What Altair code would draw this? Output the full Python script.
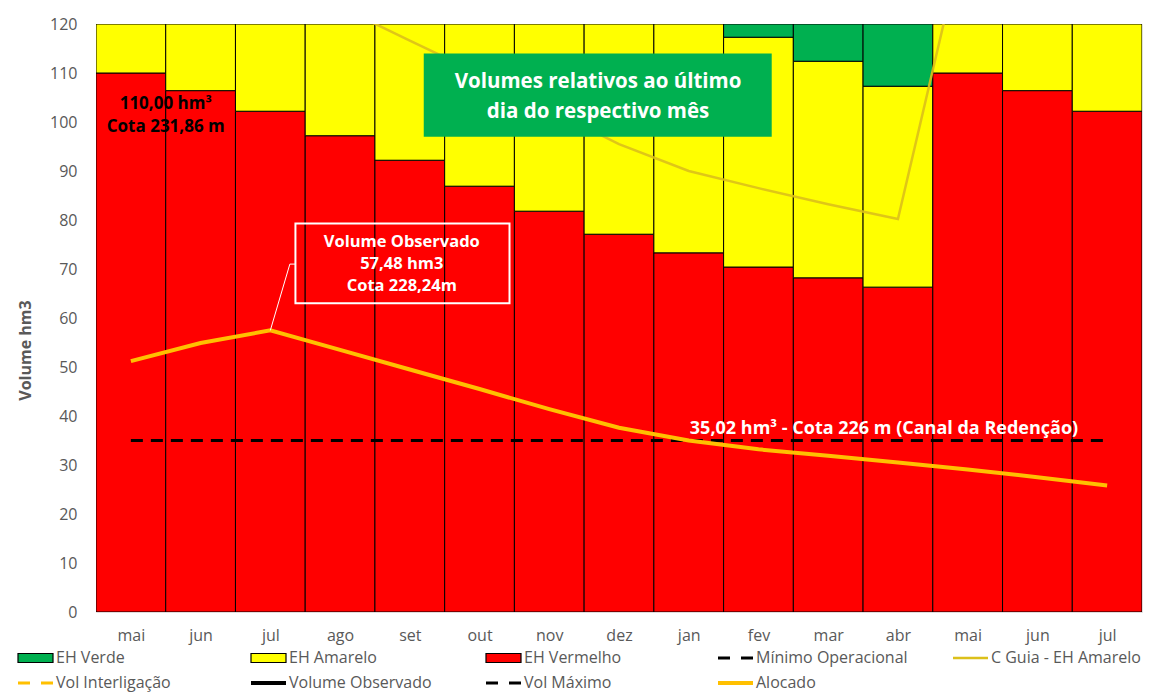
import altair as alt
import pandas as pd

FONT = "Open Sans"
GREY = "#595959"

# ---------------- data ----------------
meses = ["mai", "jun", "jul", "ago", "set", "out", "nov", "dez",
         "jan", "fev", "mar", "abr", "mai", "jun", "jul"]
eh_vermelho = [110.0, 106.4, 102.2, 97.2, 92.2, 86.9, 81.8, 77.1,
               73.3, 70.4, 68.2, 66.3, 110.0, 106.4, 102.2]
eh_amarelo_topo = [120, 120, 120, 120, 120, 120, 120, 120,
                   120, 117.3, 112.4, 107.3, 120, 120, 120]
eh_verde_topo = 120
alocado = [51.2, 54.9, 57.48, 53.5, 49.5, 45.5, 41.4, 37.6,
           35.0, 33.2, 31.9, 30.5, 29.1, 27.5, 25.8]
c_guia_idx = [3, 4, 5, 6, 7, 8, 9, 10, 11, 12]
c_guia = [123.5, 116.6, 109.8, 102.6, 95.5, 90.0, 86.5, 83.2, 80.2, 141.0]
minimo_operacional = 35.02
vol_observado_idx = 2
vol_observado = 57.48

serie_nomes = ["EH Verde", "EH Amarelo", "EH Vermelho"]
serie_cores = ["#00B050", "#FFFF00", "#FF0000"]

n = len(meses)

# ---------------- tables ----------------
rows = []
for i in range(n):
    segs = [("EH Vermelho", 0, eh_vermelho[i]),
            ("EH Amarelo", eh_vermelho[i], eh_amarelo_topo[i])]
    if eh_amarelo_topo[i] < eh_verde_topo:
        segs.append(("EH Verde", eh_amarelo_topo[i], eh_verde_topo))
    for s, a, b in segs:
        rows.append({"serie": s, "x0": i - 0.5, "x1": i + 0.5, "y0": a, "y1": b})
df_bars = pd.DataFrame(rows)

df_aloc = pd.DataFrame({"i": list(range(n)), "v": alocado})
df_guia = pd.DataFrame({"i": c_guia_idx, "v": c_guia})
df_min = pd.DataFrame({"x0": [0], "x1": [n - 1], "y": [minimo_operacional]})

xscale = alt.Scale(domain=[-0.5, n - 0.5], nice=False, zero=False)
yscale = alt.Scale(domain=[0, 120], nice=False, zero=True)

label_expr = "[" + ",".join(f"'{m}'" for m in meses) + "][datum.value]"

xaxis = alt.Axis(values=list(range(n)), labelExpr=label_expr, grid=False, ticks=False,
                 domain=False, labelPadding=15, labelFontSize=16, labelColor=GREY,
                 labelFont=FONT, labelFlush=False, labelOverlap=False, title=None)
yaxis = alt.Axis(values=list(range(0, 121, 10)), grid=False, ticks=False, domain=False,
                 labelPadding=19, labelFontSize=16, labelColor=GREY, labelFont=FONT,
                 title="Volume hm3", titleFont=FONT, titleFontSize=16, titleFontWeight="bold",
                 titleColor=GREY, titleX=-63, titleY=326, titleAngle=270, titleBaseline="bottom")


def X(field):
    return alt.X(field, scale=xscale, axis=xaxis)


def Y(field):
    return alt.Y(field, scale=yscale, axis=yaxis)


bars = alt.Chart(df_bars).mark_bar(stroke="black", strokeWidth=1, clip=True).encode(
    x=X("x0:Q"), x2="x1:Q",
    y=Y("y0:Q"), y2="y1:Q",
    color=alt.Color("serie:N", scale=alt.Scale(domain=serie_nomes, range=serie_cores), legend=None),
)

guia = alt.Chart(df_guia).mark_line(color="#DCC01A", strokeWidth=2.5, clip=True, opacity=0.9).encode(
    x=X("i:Q"), y=Y("v:Q"),
)

minimo = alt.Chart(df_min).mark_rule(color="black", strokeWidth=3, strokeDash=[12, 8]).encode(
    x=X("x0:Q"), x2="x1:Q", y=Y("y:Q"),
)

aloc = alt.Chart(df_aloc).mark_line(color="#FFC000", strokeWidth=4).encode(
    x=X("i:Q"), y=Y("v:Q"),
)

# ---------------- annotations ----------------
df_box_verde = pd.DataFrame({"x0": [4.2], "x1": [9.19], "y0": [97.0], "y1": [114.0]})
box_verde = alt.Chart(df_box_verde).mark_rect(color="#00B050").encode(
    x=X("x0:Q"), x2="x1:Q", y=Y("y0:Q"), y2="y1:Q",
)

df_box_obs = pd.DataFrame({"x0": [2.36], "x1": [5.43], "y0": [63.0], "y1": [79.3]})
box_obs = alt.Chart(df_box_obs).mark_rect(fillOpacity=0, stroke="white", strokeWidth=2).encode(
    x=X("x0:Q"), x2="x1:Q", y=Y("y0:Q"), y2="y1:Q",
)

df_leader = pd.DataFrame({"x": [vol_observado_idx, 2.28, 2.36],
                          "y": [vol_observado, 71.0, 71.0], "o": [0, 1, 2]})
leader = alt.Chart(df_leader).mark_line(color="white", strokeWidth=1).encode(
    x=X("x:Q"), y=Y("y:Q"), order="o:Q",
)

df_txt = pd.DataFrame([
    {"t": "110,00 hm³", "x": 0.50, "y": 103.6, "c": "black", "s": 17},
    {"t": "Cota 231,86 m", "x": 0.50, "y": 99.0, "c": "black", "s": 17},
    {"t": "Volumes relativos ao último", "x": 6.70, "y": 108.2, "c": "white", "s": 20.5},
    {"t": "dia do respectivo mês", "x": 6.70, "y": 102.1, "c": "white", "s": 20.5},
    {"t": "Volume Observado", "x": 3.885, "y": 75.5, "c": "white", "s": 16.5},
    {"t": "57,48 hm3", "x": 3.885, "y": 71.0, "c": "white", "s": 16.5},
    {"t": "Cota 228,24m", "x": 3.885, "y": 66.5, "c": "white", "s": 16.5},
    {"t": "35,02 hm³ - Cota 226 m (Canal da Redenção)", "x": 10.80, "y": 37.3, "c": "white", "s": 18},
])
txt = alt.Chart(df_txt).mark_text(font=FONT, fontWeight="bold", align="center", baseline="middle").encode(
    x=X("x:Q"), y=Y("y:Q"),
    text="t:N",
    color=alt.Color("c:N", scale=None),
    size=alt.Size("s:Q", scale=None),
)

# ---------------- custom legend (pixel layout) ----------------
leg_col_x = [-78, 155, 390, 622, 857]
leg_row_y = [634, 659]
leg_items = [
    ("EH Verde", 0, 0, "sq", "#00B050", 0),
    ("EH Amarelo", 1, 0, "sq", "#FFFF00", 0),
    ("EH Vermelho", 2, 0, "sq", "#FF0000", 0),
    ("Mínimo Operacional", 3, 0, "dash", "black", 3),
    ("C Guia - EH Amarelo", 4, 0, "line", "#DCC01A", 2.5),
    ("Vol Interligação", 0, 1, "dash", "#FFC000", 3),
    ("Volume Observado", 1, 1, "line", "black", 4),
    ("Vol Máximo", 2, 1, "dash", "black", 3),
    ("Alocado", 3, 1, "line", "#FFC000", 4),
]
leg = pd.DataFrame(leg_items, columns=["nome", "col", "row", "tipo", "cor", "sw"])
leg["px"] = [leg_col_x[c] for c in leg["col"]]
leg["px2"] = leg["px"] + 35
leg["tx"] = leg["px"] + 38
leg["py"] = [leg_row_y[r] for r in leg["row"]]
leg["py0"] = leg["py"] - 4.5
leg["py1"] = leg["py"] + 4.5

leg_sq = alt.Chart(leg[leg["tipo"] == "sq"]).mark_rect(stroke="black", strokeWidth=1.2).encode(
    x=alt.X("px:Q", scale=None, axis=None), x2="px2:Q",
    y=alt.Y("py0:Q", scale=None, axis=None), y2="py1:Q",
    fill=alt.Fill("cor:N", scale=None),
)
leg_line = alt.Chart(leg[leg["tipo"] == "line"]).mark_rule().encode(
    x=alt.X("px:Q", scale=None, axis=None), x2="px2:Q",
    y=alt.Y("py:Q", scale=None, axis=None),
    color=alt.Color("cor:N", scale=None),
    strokeWidth=alt.StrokeWidth("sw:Q", scale=None),
)
leg_dash = alt.Chart(leg[leg["tipo"] == "dash"]).mark_rule(strokeDash=[12, 11]).encode(
    x=alt.X("px:Q", scale=None, axis=None), x2="px2:Q",
    y=alt.Y("py:Q", scale=None, axis=None),
    color=alt.Color("cor:N", scale=None),
    strokeWidth=alt.StrokeWidth("sw:Q", scale=None),
)
leg_txt = alt.Chart(leg).mark_text(font=FONT, fontSize=16, color=GREY, align="left",
                                    baseline="middle").encode(
    x=alt.X("tx:Q", scale=None, axis=None),
    y=alt.Y("py:Q", scale=None, axis=None),
    text="nome:N",
)

chart = alt.layer(
    bars, guia, minimo, aloc, box_verde, box_obs, leader, txt,
    leg_sq, leg_line, leg_dash, leg_txt,
).properties(
    width=1046, height=588,
    autosize=alt.AutoSizeParams(type="none"),
    padding={"left": 88, "top": 16, "right": 9, "bottom": 84},
).configure_view(stroke="#D9D9D9", strokeWidth=1).configure(background="white")

chart.save("out.html", embed_options={"renderer": "svg", "actions": False})
